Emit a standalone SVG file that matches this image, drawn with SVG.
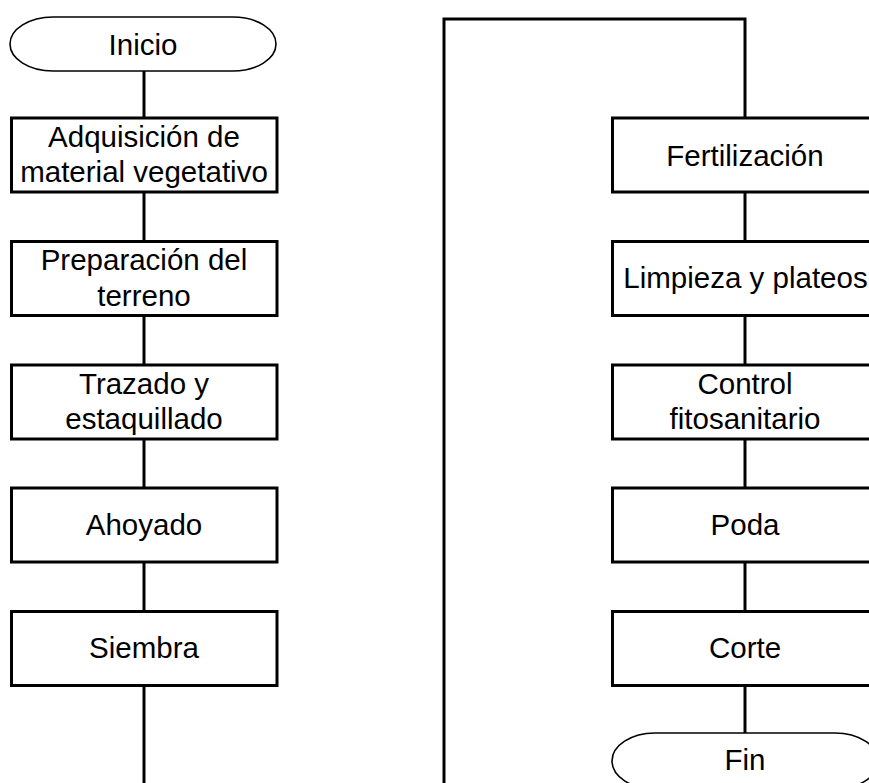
<svg xmlns="http://www.w3.org/2000/svg" width="869" height="783" viewBox="0 0 869 783">
<style>
.box{fill:#fff;stroke:#000;stroke-width:3}
.term{fill:#fff;stroke:#000;stroke-width:1.6}
.conn{fill:none;stroke:#000;stroke-width:3}
text{font-family:"Liberation Sans",Arial,sans-serif;font-size:29.5px;fill:#000;text-anchor:middle}
</style>
<rect width="869" height="783" fill="#fff"/>
<g id="connectors">
<line class="conn" x1="144" y1="70" x2="144" y2="118"/>
<line class="conn" x1="144" y1="192" x2="144" y2="241.5"/>
<line class="conn" x1="144" y1="315.5" x2="144" y2="365"/>
<line class="conn" x1="144" y1="439" x2="144" y2="488"/>
<line class="conn" x1="144" y1="562" x2="144" y2="611.5"/>
<line class="conn" x1="144" y1="685.5" x2="144" y2="790"/>
<polyline class="conn" points="444,790 444,19 745,19 745,118"/>
<line class="conn" x1="745" y1="192" x2="745" y2="241.5"/>
<line class="conn" x1="745" y1="315.5" x2="745" y2="365"/>
<line class="conn" x1="745" y1="439" x2="745" y2="488"/>
<line class="conn" x1="745" y1="562" x2="745" y2="611.5"/>
<line class="conn" x1="745" y1="685.5" x2="745" y2="733"/>
</g>
<g id="inicio">
<path class="term" d="M53,17 H233 A43,27 0 0 1 233,71 H53 A43,27 0 0 1 53,17 Z"/>
<text x="143" y="55">Inicio</text>
</g>
<g id="adquisicion">
<rect class="box" x="11.5" y="118" width="265.5" height="74"/>
<text x="144" y="146.5">Adquisición de</text>
<text x="144" y="182">material vegetativo</text>
</g>
<g id="preparacion">
<rect class="box" x="11.5" y="241.5" width="265.5" height="74"/>
<text x="144" y="270">Preparación del</text>
<text x="144" y="305.5">terreno</text>
</g>
<g id="trazado">
<rect class="box" x="11.5" y="365" width="265.5" height="74"/>
<text x="144" y="393.5">Trazado y</text>
<text x="144" y="429">estaquillado</text>
</g>
<g id="ahoyado">
<rect class="box" x="11.5" y="488" width="265.5" height="74"/>
<text x="144" y="534.5">Ahoyado</text>
</g>
<g id="siembra">
<rect class="box" x="11.5" y="611.5" width="265.5" height="74"/>
<text x="144" y="658">Siembra</text>
</g>
<g id="fertilizacion">
<rect class="box" x="612.5" y="118" width="265.5" height="74"/>
<text x="745" y="165.5">Fertilización</text>
</g>
<g id="limpieza">
<rect class="box" x="612.5" y="241.5" width="265.5" height="74"/>
<text x="745.5" y="288">Limpieza y plateos</text>
</g>
<g id="control">
<rect class="box" x="612.5" y="365" width="265.5" height="74"/>
<text x="745" y="393.5">Control</text>
<text x="745" y="429">fitosanitario</text>
</g>
<g id="poda">
<rect class="box" x="612.5" y="488" width="265.5" height="74"/>
<text x="745" y="534.5">Poda</text>
</g>
<g id="corte">
<rect class="box" x="612.5" y="611.5" width="265.5" height="74"/>
<text x="745" y="658">Corte</text>
</g>
<g id="fin">
<path class="term" d="M655,733 H835 A43,28 0 0 1 835,789 H655 A43,28 0 0 1 655,733 Z"/>
<text x="745" y="770">Fin</text>
</g>
</svg>
